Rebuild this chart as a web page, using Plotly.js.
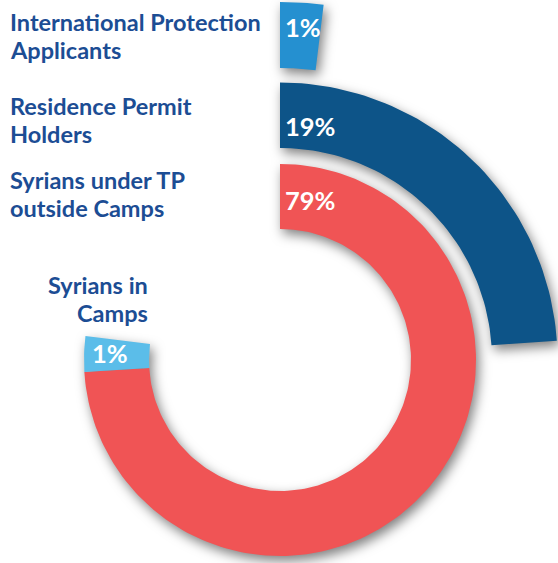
<!DOCTYPE html>
<html>
<head>
<meta charset="utf-8">
<script src="https://cdn.plot.ly/plotly-3.0.1.min.js"></script>
<style>
  html, body { margin: 0; padding: 0; background: #ffffff; }
  #chart { width: 558px; height: 563px; }
  #chart .scatterlayer { filter: drop-shadow(3px 5px 6px rgba(0,0,0,0.5)); }
</style>
</head>
<body>
<div id="chart"></div>
<script>
// ---- data ----
const categories = ["International Protection Applicants", "Residence Permit Holders", "Syrians under TP outside Camps", "Syrians in Camps"];
const labelLines = [["International Protection", "Applicants"], ["Residence Permit", "Holders"], ["Syrians under TP", "outside Camps"], ["Syrians in", "Camps"]];
const shares = [1, 19, 79, 1];                 // percent shown
const arcSweepDeg = [7, 86, 266.5, 10.5];     // drawn angular extent of each arc (degrees)
const ringIndex = [2, 1, 0, 0];               // which ring each category sits on (0 = inner)

// ---- styling / layout ----
const colors = ["#2590d0", "#0d5488", "#f05455", "#5bbde9"];
const ringRadii = [[131, 196], [212, 277.5], [292, 358]];
const textColor = "#1c4d94";
const fontFam = "Lato, 'Open Sans', sans-serif";

function arcPolygon(r0, r1, a0, a1) {
  const xs = [], ys = [];
  const n = Math.max(8, Math.ceil((a1 - a0) / 1.5));
  for (let i = 0; i <= n; i++) {
    const a = (a0 + (a1 - a0) * i / n) * Math.PI / 180;
    xs.push(r1 * Math.sin(a)); ys.push(r1 * Math.cos(a));
  }
  for (let i = n; i >= 0; i--) {
    const a = (a0 + (a1 - a0) * i / n) * Math.PI / 180;
    xs.push(r0 * Math.sin(a)); ys.push(r0 * Math.cos(a));
  }
  xs.push(xs[0]); ys.push(ys[0]);
  return {x: xs, y: ys};
}

// stack arcs clockwise from 12 o'clock within each ring
const ringStart = {};
const traces = [];
categories.forEach((c, i) => {
  const ring = ringIndex[i];
  const a0 = ringStart[ring] || 0;
  const a1 = a0 + arcSweepDeg[i];
  ringStart[ring] = a1;
  const p = arcPolygon(ringRadii[ring][0], ringRadii[ring][1], a0, a1);
  traces.push({
    type: "scatter", mode: "lines", x: p.x, y: p.y,
    fill: "toself", fillcolor: colors[i],
    line: {width: 0, color: colors[i]},
    hoverinfo: "text", text: c + ": " + shares[i] + "%",
    name: c, showlegend: false
  });
});

const annotations = [];
// category labels, one annotation per line
const labelPos = [
  {x: -272, ys: [338, 310], xanchor: "left"},
  {x: -272, ys: [254.5, 226], xanchor: "left"},
  {x: -272, ys: [180.5, 152], xanchor: "left"},
  {x: -130, ys: [75, 47], xanchor: "right"}
];
labelPos.forEach((p, i) => {
  labelLines[i].forEach((line, j) => {
    annotations.push({
      x: p.x, y: p.ys[j], xref: "x", yref: "y",
      text: line,
      showarrow: false, xanchor: p.xanchor, yanchor: "middle",
      font: {family: fontFam, size: 23.5, color: textColor, weight: 700}
    });
  });
});
// percentage labels
const pctPos = [
  {x: 3, y: 333},
  {x: 3, y: 234},
  {x: 3, y: 160},
  {x: -190, y: 7}
];
pctPos.forEach((p, i) => {
  annotations.push({
    x: p.x, y: p.y, xref: "x", yref: "y",
    text: shares[i] + "%",
    showarrow: false, xanchor: "left", yanchor: "middle",
    font: {family: fontFam, size: 25.5, color: "#ffffff", weight: 700}
  });
});

const layout = {
  width: 558, height: 563,
  margin: {l: 0, r: 0, t: 0, b: 0},
  paper_bgcolor: "#ffffff", plot_bgcolor: "#ffffff",
  xaxis: {range: [-280, 278], visible: false, fixedrange: true},
  yaxis: {range: [-203, 360], visible: false, fixedrange: true},
  showlegend: false,
  annotations: annotations
};

Plotly.newPlot("chart", traces, layout, {displayModeBar: false, staticPlot: true});
</script>
</body>
</html>
